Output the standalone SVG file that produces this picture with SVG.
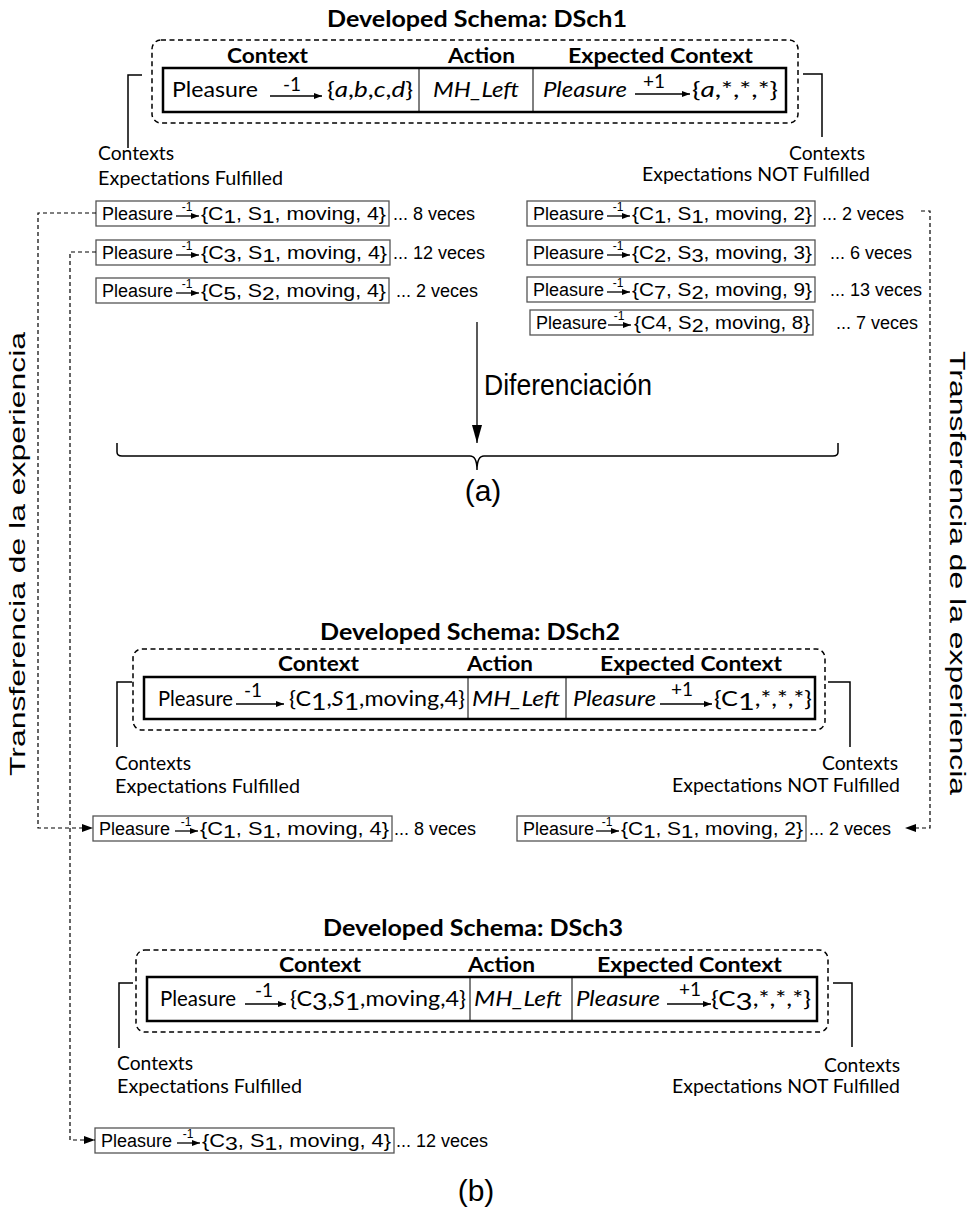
<svg xmlns="http://www.w3.org/2000/svg" width="971" height="1209" viewBox="0 0 971 1209">
<style>
.cal{font-family:Lato,"Open Sans","Liberation Sans",sans-serif;fill:#000}
.ari{font-family:"Liberation Sans",Arial,sans-serif;fill:#000}
.b{font-weight:bold}
.i{font-style:italic}
.dbox{fill:none;stroke:#000;stroke-width:1.5;stroke-dasharray:5,3.5}
.tbl{fill:none;stroke:#000;stroke-width:2.5}
.dv{stroke:#000;stroke-width:1}
.br{fill:none;stroke:#000;stroke-width:1.5}
.rb{fill:#fff;stroke:#555;stroke-width:1.3}
.ar{stroke:#000;stroke-width:1.3}
.conn{fill:none;stroke:#000;stroke-width:1.2;stroke-dasharray:4,3}
</style>
<defs>
<marker id="sm" viewBox="0 0 8 6" refX="8" refY="3" markerWidth="8" markerHeight="6" markerUnits="userSpaceOnUse" orient="auto"><path d="M0,0 L8,3 L0,6 z"/></marker>
<marker id="cm" viewBox="0 0 11 8" refX="11" refY="4" markerWidth="11" markerHeight="8" markerUnits="userSpaceOnUse" orient="auto"><path d="M0,0 L11,4 L0,8 z"/></marker>
<marker id="bm" viewBox="0 0 18 10" refX="18" refY="5" markerWidth="18" markerHeight="10" markerUnits="userSpaceOnUse" orient="auto"><path d="M0,0 L18,5 L0,10 z"/></marker>
</defs>

<!-- ===== DSch1 ===== -->
<g id="dsch1">
<text class="cal b" x="327" y="27" font-size="23" textLength="300" lengthAdjust="spacingAndGlyphs">Developed Schema: DSch1</text>
<rect class="dbox" x="152" y="40" width="646" height="83" rx="9"/>
<text class="cal b" x="227" y="63" font-size="20" textLength="81" lengthAdjust="spacingAndGlyphs">Context</text>
<text class="cal b" x="448" y="63" font-size="20" textLength="67" lengthAdjust="spacingAndGlyphs">Action</text>
<text class="cal b" x="568" y="63" font-size="20" textLength="185" lengthAdjust="spacingAndGlyphs">Expected Context</text>
<rect class="tbl" x="163" y="68" width="623" height="44"/>
<line class="dv" x1="419" y1="68" x2="419" y2="112"/>
<line class="dv" x1="533" y1="68" x2="533" y2="112"/>
<text class="cal" x="172" y="97" font-size="21" textLength="86" lengthAdjust="spacingAndGlyphs">Pleasure</text>
<line class="ar" x1="270" y1="96" x2="322" y2="96" marker-end="url(#sm)"/>
<text class="cal" x="292" y="91" font-size="19" text-anchor="middle">-1</text>
<text class="cal" x="327" y="97" font-size="21" textLength="86" lengthAdjust="spacingAndGlyphs">{<tspan class="i">a</tspan>,<tspan class="i">b</tspan>,<tspan class="i">c</tspan>,<tspan class="i">d</tspan>}</text>
<text class="cal i" x="433" y="97" font-size="21" textLength="86" lengthAdjust="spacingAndGlyphs">MH_Left</text>
<text class="cal i" x="543" y="97" font-size="21" textLength="84" lengthAdjust="spacingAndGlyphs">Pleasure</text>
<line class="ar" x1="635" y1="94" x2="690" y2="94" marker-end="url(#sm)"/>
<text class="cal" x="654" y="88" font-size="19" text-anchor="middle">+1</text>
<text class="cal" x="692" y="97" font-size="21" textLength="86" lengthAdjust="spacingAndGlyphs">{<tspan class="i">a</tspan>,*,*,*}</text>
<path class="br" d="M142,75 H128 V148"/>
<path class="br" d="M803,74 H822 V137"/>
<text class="cal" x="98" y="160" font-size="19" textLength="76" lengthAdjust="spacingAndGlyphs">Contexts</text>
<text class="cal" x="98" y="185" font-size="19" textLength="185" lengthAdjust="spacingAndGlyphs">Expectations Fulfilled</text>
<text class="cal" x="789" y="160" font-size="19" textLength="76" lengthAdjust="spacingAndGlyphs">Contexts</text>
<text class="cal" x="642" y="181" font-size="19" textLength="228" lengthAdjust="spacingAndGlyphs">Expectations NOT Fulfilled</text>
</g>

<!-- ===== Lists (a) ===== -->
<g id="L1">
<rect class="rb" x="96" y="201" width="293" height="25"/>
<text class="ari" x="102" y="220" font-size="18">Pleasure</text>
<line class="ar" x1="176" y1="216" x2="199" y2="216" marker-end="url(#sm)"/>
<text class="ari" x="187" y="211" font-size="12" text-anchor="middle">-1</text>
<text class="ari" x="201" y="220" font-size="18" textLength="185" lengthAdjust="spacingAndGlyphs">{C<tspan dy="3" font-size="19">1</tspan><tspan dy="-3">, S</tspan><tspan dy="3" font-size="19">1</tspan><tspan dy="-3">, moving, 4}</tspan></text>
<text class="ari" x="393" y="220" font-size="18">... 8 veces</text>
</g>
<g id="L2">
<rect class="rb" x="96" y="240" width="294" height="25"/>
<text class="ari" x="102" y="259" font-size="18">Pleasure</text>
<line class="ar" x1="176" y1="255" x2="199" y2="255" marker-end="url(#sm)"/>
<text class="ari" x="187" y="250" font-size="12" text-anchor="middle">-1</text>
<text class="ari" x="201" y="259" font-size="18" textLength="186" lengthAdjust="spacingAndGlyphs">{C<tspan dy="3" font-size="19">3</tspan><tspan dy="-3">, S</tspan><tspan dy="3" font-size="19">1</tspan><tspan dy="-3">, moving, 4}</tspan></text>
<text class="ari" x="393" y="259" font-size="18">... 12 veces</text>
</g>
<g id="L3">
<rect class="rb" x="96" y="278" width="293" height="25"/>
<text class="ari" x="102" y="297" font-size="18">Pleasure</text>
<line class="ar" x1="176" y1="293" x2="199" y2="293" marker-end="url(#sm)"/>
<text class="ari" x="187" y="288" font-size="12" text-anchor="middle">-1</text>
<text class="ari" x="201" y="297" font-size="18" textLength="185" lengthAdjust="spacingAndGlyphs">{C<tspan dy="3" font-size="19">5</tspan><tspan dy="-3">, S</tspan><tspan dy="3" font-size="19">2</tspan><tspan dy="-3">, moving, 4}</tspan></text>
<text class="ari" x="396" y="297" font-size="18">... 2 veces</text>
</g>
<g id="R1">
<rect class="rb" x="527" y="201" width="288" height="25"/>
<text class="ari" x="533" y="220" font-size="18">Pleasure</text>
<line class="ar" x1="607" y1="216" x2="630" y2="216" marker-end="url(#sm)"/>
<text class="ari" x="618" y="211" font-size="12" text-anchor="middle">-1</text>
<text class="ari" x="632" y="220" font-size="18" textLength="180" lengthAdjust="spacingAndGlyphs">{C<tspan dy="3" font-size="19">1</tspan><tspan dy="-3">, S</tspan><tspan dy="3" font-size="19">1</tspan><tspan dy="-3">, moving, 2}</tspan></text>
<text class="ari" x="822" y="220" font-size="18">... 2 veces</text>
</g>
<g id="R2">
<rect class="rb" x="527" y="240" width="288" height="25"/>
<text class="ari" x="533" y="259" font-size="18">Pleasure</text>
<line class="ar" x1="607" y1="255" x2="630" y2="255" marker-end="url(#sm)"/>
<text class="ari" x="618" y="250" font-size="12" text-anchor="middle">-1</text>
<text class="ari" x="632" y="259" font-size="18" textLength="180" lengthAdjust="spacingAndGlyphs">{C<tspan dy="3" font-size="19">2</tspan><tspan dy="-3">, S</tspan><tspan dy="3" font-size="19">3</tspan><tspan dy="-3">, moving, 3}</tspan></text>
<text class="ari" x="830" y="259" font-size="18">... 6 veces</text>
</g>
<g id="R3">
<rect class="rb" x="527" y="277" width="288" height="25"/>
<text class="ari" x="533" y="296" font-size="18">Pleasure</text>
<line class="ar" x1="607" y1="292" x2="630" y2="292" marker-end="url(#sm)"/>
<text class="ari" x="618" y="287" font-size="12" text-anchor="middle">-1</text>
<text class="ari" x="632" y="296" font-size="18" textLength="180" lengthAdjust="spacingAndGlyphs">{C<tspan dy="3" font-size="19">7</tspan><tspan dy="-3">, S</tspan><tspan dy="3" font-size="19">2</tspan><tspan dy="-3">, moving, 9}</tspan></text>
<text class="ari" x="830" y="296" font-size="18">... 13 veces</text>
</g>
<g id="R4">
<rect class="rb" x="530" y="310" width="283" height="25"/>
<text class="ari" x="536" y="329" font-size="18">Pleasure</text>
<line class="ar" x1="608" y1="325" x2="631" y2="325" marker-end="url(#sm)"/>
<text class="ari" x="619" y="320" font-size="12" text-anchor="middle">-1</text>
<text class="ari" x="634" y="329" font-size="18" textLength="176" lengthAdjust="spacingAndGlyphs">{C4, S<tspan dy="3" font-size="19">2</tspan><tspan dy="-3">, moving, 8}</tspan></text>
<text class="ari" x="836" y="329" font-size="18">... 7 veces</text>
</g>

<!-- ===== Diferenciación ===== -->
<g id="diferenciacion">
<line class="ar" x1="477" y1="322" x2="477" y2="443" marker-end="url(#bm)"/>
<text class="ari" x="484" y="395" font-size="29" textLength="168" lengthAdjust="spacingAndGlyphs">Diferenciación</text>
<path class="br" stroke-width="2" d="M117,443 V452 Q117,456 122,456 H470 Q477,456 477,470 Q477,456 484,456 H833 Q838,456 838,452 V443"/>
<text class="ari" x="483" y="501" font-size="30" text-anchor="middle">(a)</text>
</g>

<!-- ===== DSch2 ===== -->
<g id="dsch2">
<text class="cal b" x="320" y="640" font-size="23" textLength="300" lengthAdjust="spacingAndGlyphs">Developed Schema: DSch2</text>
<rect class="dbox" x="133" y="649" width="692" height="81" rx="9"/>
<text class="cal b" x="278" y="671" font-size="20" textLength="81" lengthAdjust="spacingAndGlyphs">Context</text>
<text class="cal b" x="467" y="671" font-size="20" textLength="66" lengthAdjust="spacingAndGlyphs">Action</text>
<text class="cal b" x="600" y="671" font-size="20" textLength="182" lengthAdjust="spacingAndGlyphs">Expected Context</text>
<rect class="tbl" x="144" y="677" width="671" height="42"/>
<line class="dv" x1="468" y1="677" x2="468" y2="719"/>
<line class="dv" x1="566" y1="677" x2="566" y2="719"/>
<text class="cal" x="158" y="706" font-size="21" textLength="75" lengthAdjust="spacingAndGlyphs">Pleasure</text>
<line class="ar" x1="236" y1="704" x2="284" y2="704" marker-end="url(#sm)"/>
<text class="cal" x="253" y="697" font-size="19" text-anchor="middle">-1</text>
<text class="cal" x="289" y="706" font-size="21" textLength="176" lengthAdjust="spacingAndGlyphs">{C<tspan dy="4" font-size="24">1</tspan><tspan dy="-4">,</tspan><tspan class="i">S</tspan><tspan dy="4" font-size="24">1</tspan><tspan dy="-4">,moving,4}</tspan></text>
<text class="cal i" x="472" y="706" font-size="21" textLength="88" lengthAdjust="spacingAndGlyphs">MH_Left</text>
<text class="cal i" x="573" y="706" font-size="21" textLength="83" lengthAdjust="spacingAndGlyphs">Pleasure</text>
<line class="ar" x1="660" y1="704" x2="712" y2="704" marker-end="url(#sm)"/>
<text class="cal" x="682" y="696" font-size="19" text-anchor="middle">+1</text>
<text class="cal" x="714" y="706" font-size="21" textLength="98" lengthAdjust="spacingAndGlyphs">{C<tspan dy="4" font-size="24">1</tspan><tspan dy="-4">,*,*,*}</tspan></text>
<path class="br" d="M132,682 H117 V747"/>
<path class="br" d="M828,682 H850 V747"/>
<text class="cal" x="115" y="770" font-size="19" textLength="76" lengthAdjust="spacingAndGlyphs">Contexts</text>
<text class="cal" x="115" y="793" font-size="19" textLength="185" lengthAdjust="spacingAndGlyphs">Expectations Fulfilled</text>
<text class="cal" x="822" y="770" font-size="19" textLength="76" lengthAdjust="spacingAndGlyphs">Contexts</text>
<text class="cal" x="672" y="792" font-size="19" textLength="228" lengthAdjust="spacingAndGlyphs">Expectations NOT Fulfilled</text>
</g>

<g id="B1">
<rect class="rb" x="93" y="816" width="299" height="25"/>
<text class="ari" x="99" y="835" font-size="18">Pleasure</text>
<line class="ar" x1="175" y1="831" x2="198" y2="831" marker-end="url(#sm)"/>
<text class="ari" x="186" y="826" font-size="12" text-anchor="middle">-1</text>
<text class="ari" x="200" y="835" font-size="18" textLength="189" lengthAdjust="spacingAndGlyphs">{C<tspan dy="3" font-size="19">1</tspan><tspan dy="-3">, S</tspan><tspan dy="3" font-size="19">1</tspan><tspan dy="-3">, moving, 4}</tspan></text>
<text class="ari" x="394" y="835" font-size="18">... 8 veces</text>
</g>
<g id="B2">
<rect class="rb" x="517" y="816" width="289" height="25"/>
<text class="ari" x="523" y="835" font-size="18">Pleasure</text>
<line class="ar" x1="596" y1="831" x2="619" y2="831" marker-end="url(#sm)"/>
<text class="ari" x="607" y="826" font-size="12" text-anchor="middle">-1</text>
<text class="ari" x="621" y="835" font-size="18" textLength="182" lengthAdjust="spacingAndGlyphs">{C<tspan dy="3" font-size="19">1</tspan><tspan dy="-3">, S</tspan><tspan dy="3" font-size="19">1</tspan><tspan dy="-3">, moving, 2}</tspan></text>
<text class="ari" x="809" y="835" font-size="18">... 2 veces</text>
</g>

<!-- ===== DSch3 ===== -->
<g id="dsch3">
<text class="cal b" x="323" y="936" font-size="23" textLength="300" lengthAdjust="spacingAndGlyphs">Developed Schema: DSch3</text>
<rect class="dbox" x="136" y="950" width="692" height="82" rx="9"/>
<text class="cal b" x="279" y="972" font-size="20" textLength="82" lengthAdjust="spacingAndGlyphs">Context</text>
<text class="cal b" x="468" y="972" font-size="20" textLength="67" lengthAdjust="spacingAndGlyphs">Action</text>
<text class="cal b" x="597" y="972" font-size="20" textLength="185" lengthAdjust="spacingAndGlyphs">Expected Context</text>
<rect class="tbl" x="147" y="977" width="670" height="44"/>
<line class="dv" x1="470" y1="977" x2="470" y2="1021"/>
<line class="dv" x1="572" y1="977" x2="572" y2="1021"/>
<text class="cal" x="160" y="1006" font-size="21" textLength="76" lengthAdjust="spacingAndGlyphs">Pleasure</text>
<line class="ar" x1="245" y1="1004" x2="286" y2="1004" marker-end="url(#sm)"/>
<text class="cal" x="264" y="997" font-size="19" text-anchor="middle">-1</text>
<text class="cal" x="290" y="1006" font-size="21" textLength="176" lengthAdjust="spacingAndGlyphs">{C<tspan dy="4" font-size="24">3</tspan><tspan dy="-4">,</tspan><tspan class="i">S</tspan><tspan dy="4" font-size="24">1</tspan><tspan dy="-4">,moving,4}</tspan></text>
<text class="cal i" x="474" y="1006" font-size="21" textLength="88" lengthAdjust="spacingAndGlyphs">MH_Left</text>
<text class="cal i" x="576" y="1006" font-size="21" textLength="84" lengthAdjust="spacingAndGlyphs">Pleasure</text>
<line class="ar" x1="667" y1="1004" x2="711" y2="1004" marker-end="url(#sm)"/>
<text class="cal" x="690" y="996" font-size="19" text-anchor="middle">+1</text>
<text class="cal" x="711" y="1006" font-size="21" textLength="100" lengthAdjust="spacingAndGlyphs">{C<tspan dy="4" font-size="24">3</tspan><tspan dy="-4">,*,*,*}</tspan></text>
<path class="br" d="M133,983 H119 V1048"/>
<path class="br" d="M833,983 H852 V1047"/>
<text class="cal" x="117" y="1070" font-size="19" textLength="76" lengthAdjust="spacingAndGlyphs">Contexts</text>
<text class="cal" x="117" y="1093" font-size="19" textLength="185" lengthAdjust="spacingAndGlyphs">Expectations Fulfilled</text>
<text class="cal" x="824" y="1072" font-size="19" textLength="76" lengthAdjust="spacingAndGlyphs">Contexts</text>
<text class="cal" x="672" y="1093" font-size="19" textLength="228" lengthAdjust="spacingAndGlyphs">Expectations NOT Fulfilled</text>
</g>

<g id="B3">
<rect class="rb" x="95" y="1128" width="299" height="25"/>
<text class="ari" x="101" y="1147" font-size="18">Pleasure</text>
<line class="ar" x1="177" y1="1143" x2="200" y2="1143" marker-end="url(#sm)"/>
<text class="ari" x="188" y="1138" font-size="12" text-anchor="middle">-1</text>
<text class="ari" x="202" y="1147" font-size="18" textLength="189" lengthAdjust="spacingAndGlyphs">{C<tspan dy="3" font-size="19">3</tspan><tspan dy="-3">, S</tspan><tspan dy="3" font-size="19">1</tspan><tspan dy="-3">, moving, 4}</tspan></text>
<text class="ari" x="396" y="1147" font-size="18">... 12 veces</text>
</g>

<text class="ari" x="476" y="1201" font-size="30" text-anchor="middle">(b)</text>

<!-- ===== Side labels ===== -->
<text class="ari" x="-222" y="0" font-size="22" transform="translate(25,554) rotate(-90)" textLength="444" lengthAdjust="spacingAndGlyphs">Transferencia de la experiencia</text>
<text class="ari" x="-222" y="0" font-size="22" transform="translate(950,573) rotate(90)" textLength="444" lengthAdjust="spacingAndGlyphs">Transferencia de la experiencia</text>

<!-- ===== Connectors ===== -->
<g id="connectors">
<path class="conn" d="M96,213 H38 V828 H93" marker-end="url(#cm)"/>
<path class="conn" d="M96,252 H70 V1140 H95" marker-end="url(#cm)"/>
<path class="conn" d="M921,211 H930 V828 H905" marker-end="url(#cm)"/>
</g>
</svg>
